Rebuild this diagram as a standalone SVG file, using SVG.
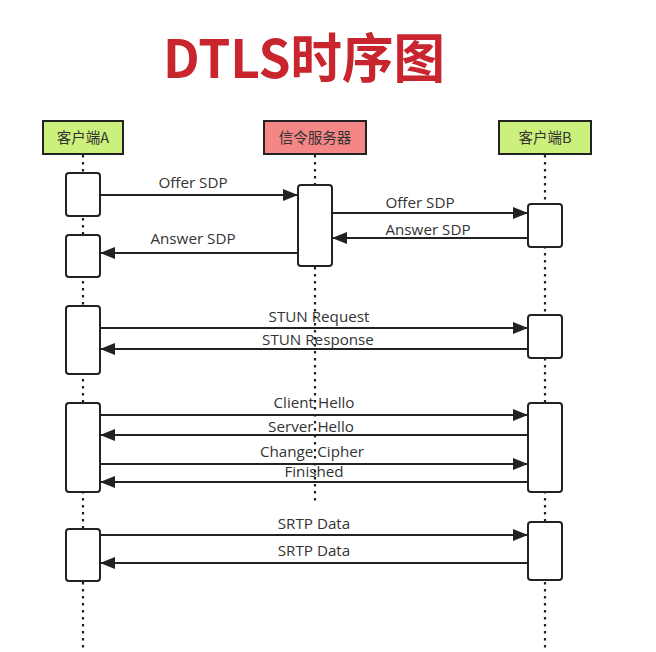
<svg xmlns="http://www.w3.org/2000/svg" width="656" height="652" viewBox="0 0 656 652">
<style>
.title{font-family:"Noto Sans CJK SC","Noto Sans",sans-serif;font-weight:700;font-size:53px;fill:#c9252f}
.pbox{stroke:#222;stroke-width:2}
.ptxt{font-family:"Noto Sans CJK SC","Noto Sans",sans-serif;font-size:14.5px;fill:#333;text-anchor:middle}
.life{stroke:#222;stroke-width:2.2;stroke-dasharray:2.5 4.5;fill:none}
.act{fill:#fff;stroke:#222;stroke-width:2}
.msg{stroke:#222;stroke-width:2;fill:none;marker-end:url(#ah)}
.mtxt{font-family:"Open Sans","Noto Sans",sans-serif;font-size:15.2px;fill:#333;text-anchor:middle}
</style>
<defs>
<marker id="ah" markerUnits="userSpaceOnUse" markerWidth="16" markerHeight="14" refX="15" refY="7" orient="auto">
<path d="M0,1 L15,7 L0,13 Z" fill="#222"/>
</marker>
</defs>
<rect width="656" height="652" fill="#fff"/>
<text class="title" x="163" y="78" textLength="282" lengthAdjust="spacingAndGlyphs">DTLS时序图</text>

<g id="lifelines">
<line class="life" x1="83" y1="155" x2="83" y2="652"/>
<line class="life" x1="315" y1="155" x2="315" y2="503"/>
<line class="life" x1="545" y1="155" x2="545" y2="652"/>
</g>

<g id="clientA">
<rect class="pbox" x="43" y="121" width="80" height="33" fill="#ccf07c"/>
<text class="ptxt" x="83" y="143">客户端A</text>
</g>
<g id="server">
<rect class="pbox" x="264" y="121" width="102" height="33" fill="#f58686"/>
<text class="ptxt" x="315" y="143">信令服务器</text>
</g>
<g id="clientB">
<rect class="pbox" x="499" y="121" width="92" height="33" fill="#ccf07c"/>
<text class="ptxt" x="545" y="143">客户端B</text>
</g>

<g id="activations">
<rect class="act" x="66" y="173" width="34" height="43" rx="3"/>
<rect class="act" x="298" y="185" width="34" height="81" rx="3"/>
<rect class="act" x="528" y="204" width="34" height="43" rx="3"/>
<rect class="act" x="66" y="235" width="34" height="42" rx="3"/>
<rect class="act" x="66" y="306" width="34" height="68" rx="3"/>
<rect class="act" x="528" y="315" width="34" height="43" rx="3"/>
<rect class="act" x="66" y="403" width="34" height="89" rx="3"/>
<rect class="act" x="528" y="403" width="34" height="89" rx="3"/>
<rect class="act" x="66" y="529" width="34" height="52" rx="3"/>
<rect class="act" x="528" y="522" width="34" height="58" rx="3"/>
</g>

<g id="connectors">
<line class="msg" x1="100" y1="195" x2="298" y2="195"/>
<line class="msg" x1="332" y1="213" x2="528" y2="213"/>
<line class="msg" x1="528" y1="238" x2="332" y2="238"/>
<line class="msg" x1="298" y1="253" x2="100" y2="253"/>
<line class="msg" x1="100" y1="328" x2="528" y2="328"/>
<line class="msg" x1="528" y1="349" x2="100" y2="349"/>
<line class="msg" x1="100" y1="415" x2="528" y2="415"/>
<line class="msg" x1="528" y1="435" x2="100" y2="435"/>
<line class="msg" x1="100" y1="464" x2="528" y2="464"/>
<line class="msg" x1="528" y1="482" x2="100" y2="482"/>
<line class="msg" x1="100" y1="535" x2="528" y2="535"/>
<line class="msg" x1="528" y1="563" x2="100" y2="563"/>
</g>

<g id="labels">
<text class="mtxt" x="193" y="188">Offer SDP</text>
<text class="mtxt" x="420" y="208">Offer SDP</text>
<text class="mtxt" x="428" y="235">Answer SDP</text>
<text class="mtxt" x="193" y="244">Answer SDP</text>
<text class="mtxt" x="319" y="322">STUN Request</text>
<text class="mtxt" x="318" y="345">STUN Response</text>
<text class="mtxt" x="314" y="408">Client Hello</text>
<text class="mtxt" x="311" y="432">Server Hello</text>
<text class="mtxt" x="312" y="457">Change Cipher</text>
<text class="mtxt" x="314" y="477">Finished</text>
<text class="mtxt" x="314" y="529">SRTP Data</text>
<text class="mtxt" x="314" y="556">SRTP Data</text>
</g>
</svg>
